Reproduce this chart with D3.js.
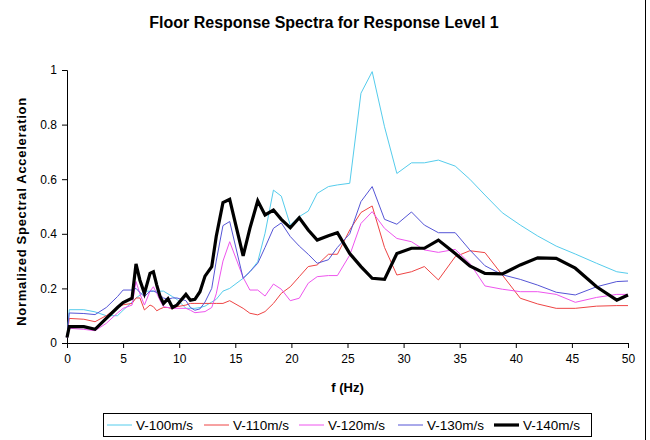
<!DOCTYPE html>
<html>
<head>
<meta charset="utf-8">
<script src="https://cdn.jsdelivr.net/npm/d3@7"></script>
<style>
  html, body { margin: 0; padding: 0; background: #fff; }
  svg { display: block; font-family: "Liberation Sans", Arial, sans-serif; }
</style>
</head>
<body>
<svg id="chart" width="650" height="440"></svg>
<script>
// Frequencies (Hz) shared by every series
const freqs = [0, 0.2, 1.5, 2.5, 3.5, 4.5, 5.0, 5.8, 6.15, 6.5, 6.9, 7.4, 7.7, 8.0, 8.3, 8.6, 9.0, 9.4, 9.8, 10.6, 11.0, 11.4, 11.85, 12.3, 12.9, 13.3, 13.9, 14.5, 15.7, 16.3, 17.0, 17.65, 18.4, 19.1, 19.9, 20.7, 21.5, 22.3, 23.3, 24.1, 25.2, 26.2, 27.2, 28.3, 29.4, 30.7, 31.85, 33.1, 34.6, 35.9, 37.25, 38.8, 40.4, 41.95, 43.6, 45.3, 47.2, 49, 50];

const v100 = [0.02, 0.122, 0.122, 0.114, 0.10, 0.10, 0.12, 0.15, 0.165, 0.175, 0.19, 0.19, 0.19, 0.19, 0.19, 0.19, 0.18, 0.17, 0.16, 0.127, 0.127, 0.127, 0.13, 0.135, 0.15, 0.16, 0.19, 0.20, 0.237, 0.261, 0.298, 0.402, 0.56, 0.538, 0.432, 0.463, 0.483, 0.548, 0.573, 0.579, 0.585, 0.915, 0.994, 0.792, 0.621, 0.66, 0.66, 0.67, 0.648, 0.60, 0.542, 0.477, 0.432, 0.392, 0.355, 0.326, 0.292, 0.261, 0.255];

const v110 = [0.02, 0.09, 0.087, 0.078, 0.10, 0.13, 0.14, 0.145, 0.165, 0.165, 0.121, 0.139, 0.133, 0.118, 0.125, 0.13, 0.13, 0.125, 0.133, 0.139, 0.145, 0.145, 0.145, 0.145, 0.145, 0.145, 0.145, 0.155, 0.127, 0.109, 0.103, 0.115, 0.145, 0.182, 0.206, 0.243, 0.28, 0.286, 0.325, 0.325, 0.414, 0.478, 0.502, 0.35, 0.249, 0.261, 0.28, 0.231, 0.316, 0.338, 0.331, 0.249, 0.164, 0.143, 0.127, 0.127, 0.135, 0.137, 0.137];

const v120 = [0.02, 0.054, 0.05, 0.045, 0.072, 0.11, 0.127, 0.139, 0.225, 0.18, 0.139, 0.19, 0.206, 0.182, 0.155, 0.133, 0.13, 0.127, 0.127, 0.127, 0.12, 0.111, 0.113, 0.115, 0.13, 0.18, 0.30, 0.371, 0.24, 0.194, 0.194, 0.172, 0.216, 0.197, 0.155, 0.164, 0.219, 0.243, 0.247, 0.247, 0.322, 0.438, 0.481, 0.42, 0.383, 0.371, 0.341, 0.332, 0.343, 0.292, 0.209, 0.197, 0.188, 0.188, 0.178, 0.149, 0.167, 0.178, 0.178];

const v130 = [0.02, 0.11, 0.108, 0.104, 0.13, 0.17, 0.194, 0.194, 0.20, 0.185, 0.17, 0.19, 0.19, 0.185, 0.175, 0.165, 0.16, 0.165, 0.165, 0.155, 0.13, 0.12, 0.125, 0.15, 0.20, 0.30, 0.43, 0.445, 0.237, 0.261, 0.292, 0.35, 0.42, 0.44, 0.39, 0.355, 0.325, 0.292, 0.305, 0.35, 0.40, 0.518, 0.573, 0.453, 0.435, 0.48, 0.432, 0.404, 0.404, 0.341, 0.283, 0.25, 0.233, 0.212, 0.186, 0.176, 0.206, 0.225, 0.227];

const v140 = [0.02, 0.06, 0.06, 0.05, 0.09, 0.13, 0.148, 0.164, 0.29, 0.23, 0.182, 0.255, 0.261, 0.212, 0.17, 0.145, 0.162, 0.13, 0.139, 0.178, 0.157, 0.16, 0.188, 0.245, 0.28, 0.39, 0.514, 0.526, 0.319, 0.42, 0.521, 0.469, 0.487, 0.453, 0.422, 0.459, 0.414, 0.377, 0.393, 0.404, 0.328, 0.28, 0.237, 0.233, 0.328, 0.347, 0.347, 0.377, 0.328, 0.282, 0.255, 0.253, 0.286, 0.312, 0.31, 0.274, 0.206, 0.157, 0.176];

const seriesNames = ["V-100m/s", "V-110m/s", "V-120m/s", "V-130m/s", "V-140m/s"];
const xTicks = [0, 5, 10, 15, 20, 25, 30, 35, 40, 45, 50];
const yTicks = [0, 0.2, 0.4, 0.6, 0.8, 1];

const series = [
  { name: seriesNames[0], values: v100, color: "#55ccec", width: 1 },
  { name: seriesNames[1], values: v110, color: "#ee4444", width: 1 },
  { name: seriesNames[2], values: v120, color: "#ee55ee", width: 1 },
  { name: seriesNames[3], values: v130, color: "#5555d6", width: 1 },
  { name: seriesNames[4], values: v140, color: "#000000", width: 3.2 }
];

const svg = d3.select("#chart");
const W = 650, H = 440;
const mLeft = 67, mRight = 628, mTop = 70, mBottom = 343;

svg.append("rect").attr("width", W).attr("height", H).attr("fill", "#fff");

const x = d3.scaleLinear().domain([0, 50]).range([mLeft, mRight]);
const y = d3.scaleLinear().domain([0, 1]).range([mBottom, mTop]);

// Title
svg.append("text")
  .attr("x", 324).attr("y", 28)
  .attr("text-anchor", "middle")
  .attr("font-size", 16).attr("font-weight", "bold")
  .text("Floor Response Spectra for Response Level 1");

// Axes
const xAxis = d3.axisBottom(x).tickValues(xTicks).tickSize(5).tickPadding(6).tickFormat(d3.format("d"));
const yAxis = d3.axisLeft(y).tickValues(yTicks).tickSize(5).tickPadding(5).tickFormat(d => d === 0 || d === 1 ? String(d) : d3.format(".1f")(d));

const gx = svg.append("g").attr("transform", `translate(0,${mBottom})`).call(xAxis);
const gy = svg.append("g").attr("transform", `translate(${mLeft},0)`).call(yAxis);
[gx, gy].forEach(g => {
  g.select(".domain").attr("stroke", "#000").attr("stroke-width", 1);
  g.selectAll(".tick line").attr("stroke", "#000");
  g.selectAll(".tick text").attr("font-size", 12).attr("fill", "#000")
    .attr("font-family", "Liberation Sans, Arial, sans-serif");
});

// Axis titles
svg.append("text")
  .attr("x", x(25)).attr("y", 392)
  .attr("text-anchor", "middle")
  .attr("font-size", 13).attr("font-weight", "bold")
  .text("f (Hz)");

svg.append("text")
  .attr("transform", `translate(26,${(mTop + mBottom) / 2 + 5}) rotate(-90)`)
  .attr("text-anchor", "middle")
  .attr("font-size", 13).attr("font-weight", "bold")
  .attr("letter-spacing", 0.7)
  .text("Normalized Spectral Acceleration");

// Lines
const line = d3.line().x((d, i) => x(freqs[i])).y(d => y(d));
series.forEach(s => {
  svg.append("path")
    .datum(s.values)
    .attr("fill", "none")
    .attr("stroke", s.color)
    .attr("stroke-width", s.width)
    .attr("stroke-linejoin", "miter")
    .attr("d", line);
});

// Legend
const legend = svg.append("g");
legend.append("rect")
  .attr("x", 103.5).attr("y", 413.5).attr("width", 488).attr("height", 23)
  .attr("fill", "#fff").attr("stroke", "#000").attr("stroke-width", 1);
const legendX = [107, 204, 299, 398, 494];
series.forEach((s, i) => {
  const g = legend.append("g").attr("transform", `translate(${legendX[i]},425)`);
  g.append("line").attr("x1", 0).attr("x2", 25).attr("y1", 0).attr("y2", 0)
    .attr("stroke", s.color).attr("stroke-width", s.width);
  g.append("text").attr("x", 29).attr("y", 5)
    .attr("font-size", 13.5).text(s.name);
});

// Right border of the chart area
svg.append("line").attr("x1", 645.5).attr("x2", 645.5).attr("y1", 0).attr("y2", H)
  .attr("stroke", "#000").attr("stroke-width", 1);
</script>
</body>
</html>
